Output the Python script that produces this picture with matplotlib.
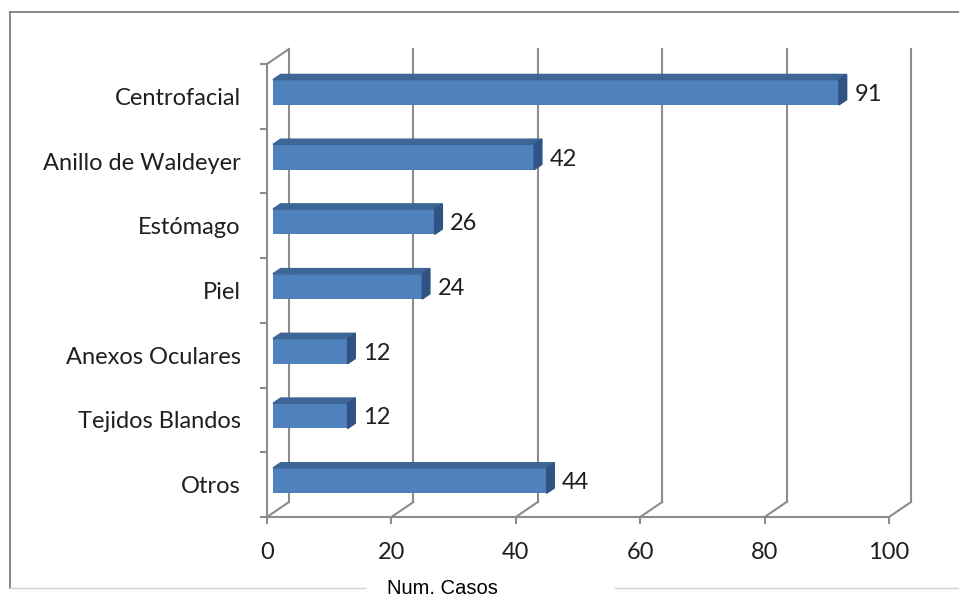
import matplotlib
matplotlib.use("Agg")
import matplotlib.pyplot as plt
import numpy as np
from matplotlib.patches import Polygon
from matplotlib.lines import Line2D
from matplotlib.transforms import ScaledTranslation, IdentityTransform

# data, bottom to top
categories = ["Otros", "Tejidos Blandos", "Anexos Oculares", "Piel",
              "Estómago", "Anillo de Waldeyer", "Centrofacial"]
casos = [44, 12, 12, 24, 26, 42, 91]
x_ticks = [0, 20, 40, 60, 80, 100]

W, H, DPI = 959, 598, 100
grid_col = "#8c8c8c"
face_col = "#4f81bd"
top_col = "#3d6596"
side_col = "#2f5384"
txt_col = "#1f1f1f"

DX, DY = 22, 15      # depth of the 3d box (px)
F0, FD = 0.27, 0.35  # bar front offset / bar thickness as share of depth
BAR_H = 0.39

plt.rcParams["font.family"] = ["Lato", "DejaVu Sans"]

fig = plt.figure(figsize=(W / DPI, H / DPI), dpi=DPI)
ax = fig.add_axes([267 / W, (H - 517) / H, 622 / W, 453 / H])
ax.set_xlim(0, 100)
ax.set_ylim(-0.5, 6.5)
ax.patch.set_visible(False)
for s in ["top", "right"]:
    ax.spines[s].set_visible(False)
for s in ["left", "bottom"]:
    ax.spines[s].set_color(grid_col)
    ax.spines[s].set_linewidth(1.5)

ax.set_xticks(x_ticks)
ax.tick_params(axis="x", length=5, width=1.5, color=grid_col, pad=13,
               labelsize=17, labelcolor=txt_col)
ax.set_yticks(np.arange(-0.5, 7, 1))
ax.set_yticklabels([])
ax.set_yticks(range(len(categories)), categories, minor=True)
ax.tick_params(axis="y", which="major", length=5, width=1.5, color=grid_col)
ax.tick_params(axis="y", which="minor", length=0, pad=19, labelsize=17,
               labelcolor=txt_col)


def px(x, y, f=0.0):
    # display position of a data point pushed f of the way into the depth
    X, Y = ax.transData.transform((x, y))
    return X + f * DX, Y + f * DY


ident = IdentityTransform()

# back wall grid lines
back = ax.transData + ScaledTranslation(DX / DPI, DY / DPI, fig.dpi_scale_trans)
for t in x_ticks:
    ax.plot([t, t], [-0.5, 6.5], transform=back, color=grid_col, lw=1.5,
            clip_on=False, zorder=1)
    (a, b), (c, d) = px(t, -0.5), px(t, -0.5, 1)
    ax.add_line(Line2D([a, c], [b, d], transform=ident, color=grid_col,
                       lw=1.5, clip_on=False, zorder=1))
(a, b), (c, d) = px(0, 6.5), px(0, 6.5, 1)
ax.add_line(Line2D([a, c], [b, d], transform=ident, color=grid_col,
                   lw=1.5, clip_on=False, zorder=1))

# bars
front = ax.transData + ScaledTranslation(F0 * DX / DPI, F0 * DY / DPI,
                                         fig.dpi_scale_trans)
ax.barh(range(len(casos)), casos, height=BAR_H, color=face_col,
        transform=front, zorder=3)
for i, v in enumerate(casos):
    y0, y1 = i - BAR_H / 2, i + BAR_H / 2
    top = [px(0, y1, F0), px(v, y1, F0), px(v, y1, F0 + FD), px(0, y1, F0 + FD)]
    side = [px(v, y0, F0), px(v, y0, F0 + FD), px(v, y1, F0 + FD), px(v, y1, F0)]
    ax.add_patch(Polygon(top, closed=True, transform=ident, color=top_col,
                         clip_on=False, zorder=3))
    ax.add_patch(Polygon(side, closed=True, transform=ident, color=side_col,
                         clip_on=False, zorder=3))
    ax.annotate(str(v), (v, i),
                xytext=((F0 + FD) * DX * 0.72 + 5.5, F0 * DY * 0.72 - 1.5),
                textcoords="offset points", ha="left", va="center",
                fontsize=17, color=txt_col)

ax.set_xlim(0, 100)
ax.set_ylim(-0.5, 6.5)

ax.set_xlabel("Num. Casos", fontfamily="Liberation Sans", fontsize=14.5,
              color="#000000")
ax.xaxis.set_label_coords((442 - 267) / 622, (517 - 594) / 453)
ax.xaxis.label.set_va("baseline")

# chart frame
fig.add_artist(Line2D([10 / W, 10 / W], [(H - 12) / H, (H - 588) / H],
                      color="#808080", lw=1.3))
fig.add_artist(Line2D([10 / W, 1], [(H - 12) / H, (H - 12) / H],
                      color="#808080", lw=1.3))
fig.add_artist(Line2D([10 / W, 365 / W], [(H - 588) / H, (H - 588) / H],
                      color="#d0d0d0", lw=1))
fig.add_artist(Line2D([615 / W, 1], [(H - 588) / H, (H - 588) / H],
                      color="#d0d0d0", lw=1))

fig.savefig("out.png", dpi=DPI)
